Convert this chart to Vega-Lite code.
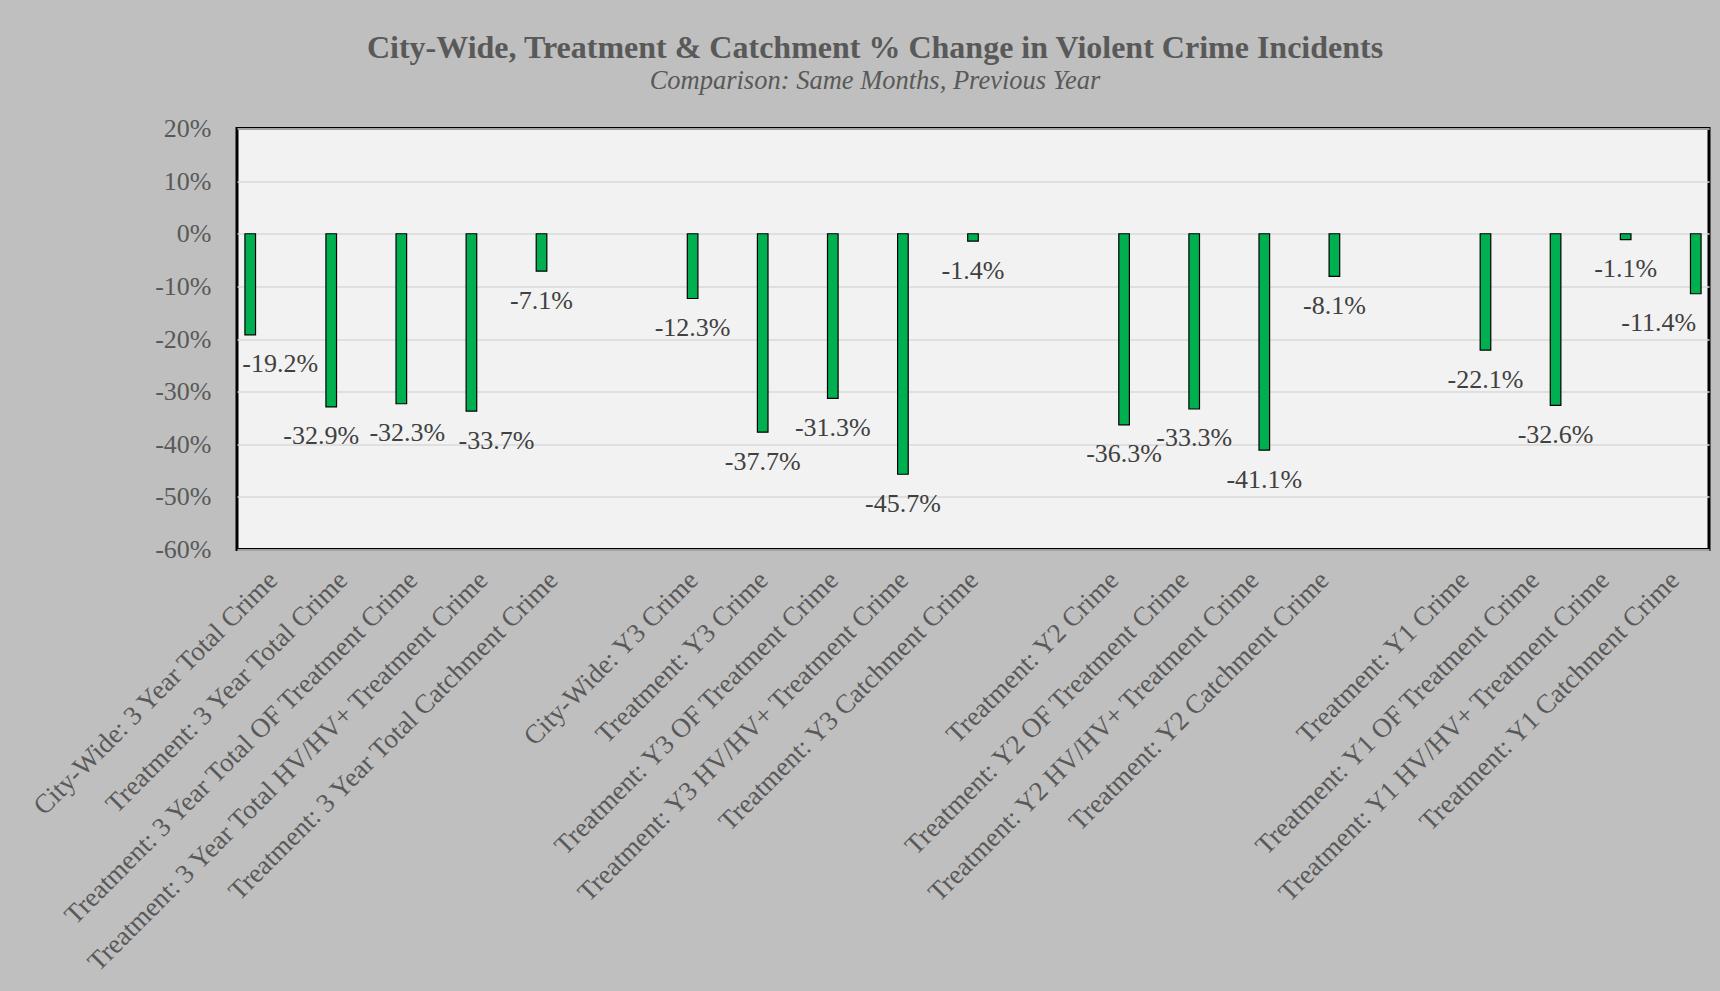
{
  "$schema": "https://vega.github.io/schema/vega-lite/v6.json",
  "autosize": "none",
  "width": 1472,
  "height": 421,
  "padding": {"left": 237, "top": 128.5, "right": 11, "bottom": 441.5},
  "background": "#BFBFBF",
  "title": {
    "text": "City-Wide, Treatment & Catchment % Change in Violent Crime Incidents",
    "subtitle": "Comparison: Same Months, Previous Year",
    "anchor": "middle",
    "frame": "group",
    "dx": -98,
    "offset": 20,
    "font": "Liberation Serif",
    "fontSize": 32,
    "fontWeight": "bold",
    "color": "#595959",
    "subtitleFont": "Liberation Serif",
    "subtitleFontSize": 26.5,
    "subtitleFontStyle": "italic",
    "subtitleColor": "#595959",
    "subtitlePadding": 3
  },
  "config": {
    "locale": {"number": {"decimal": ".", "thousands": ",", "grouping": [3], "currency": ["$", ""], "minus": "-"}},
    "view": {"fill": "#F2F2F2", "stroke": "#000000", "strokeWidth": 3}
  },
  "data": {
    "values": [
      {"cat": "City-Wide: 3 Year Total Crime", "series": "S0", "pct": -0.192},
      {"cat": "Treatment: 3 Year Total Crime", "series": "S1", "pct": -0.329},
      {"cat": "Treatment: 3 Year Total OF Treatment Crime", "series": "S1", "pct": -0.323},
      {"cat": "Treatment: 3 Year Total HV/HV+ Treatment Crime", "series": "S1", "pct": -0.337},
      {"cat": "Treatment: 3 Year Total Catchment Crime", "series": "S1", "pct": -0.071},
      {"cat": "City-Wide: Y3 Crime", "series": "S2", "pct": -0.123},
      {"cat": "Treatment: Y3 Crime", "series": "S2", "pct": -0.377},
      {"cat": "Treatment: Y3 OF Treatment Crime", "series": "S2", "pct": -0.313},
      {"cat": "Treatment: Y3 HV/HV+ Treatment Crime", "series": "S2", "pct": -0.457},
      {"cat": "Treatment: Y3 Catchment Crime", "series": "S2", "pct": -0.014},
      {"cat": "Treatment: Y2 Crime", "series": "S3", "pct": -0.363},
      {"cat": "Treatment: Y2 OF Treatment Crime", "series": "S3", "pct": -0.333},
      {"cat": "Treatment: Y2 HV/HV+ Treatment Crime", "series": "S3", "pct": -0.411},
      {"cat": "Treatment: Y2 Catchment Crime", "series": "S3", "pct": -0.081},
      {"cat": "Treatment: Y1 Crime", "series": "S4", "pct": -0.221},
      {"cat": "Treatment: Y1 OF Treatment Crime", "series": "S4", "pct": -0.326},
      {"cat": "Treatment: Y1 HV/HV+ Treatment Crime", "series": "S4", "pct": -0.011},
      {"cat": "Treatment: Y1 Catchment Crime", "series": "S4", "pct": -0.114}
    ]
  },
  "encoding": {
    "x": {
      "field": "cat",
      "type": "nominal",
      "sort": null,
      "scale": {
        "domain": [
          "City-Wide: 3 Year Total Crime",
          "Treatment: 3 Year Total Crime",
          "Treatment: 3 Year Total OF Treatment Crime",
          "Treatment: 3 Year Total HV/HV+ Treatment Crime",
          "Treatment: 3 Year Total Catchment Crime",
          " ",
          "City-Wide: Y3 Crime",
          "Treatment: Y3 Crime",
          "Treatment: Y3 OF Treatment Crime",
          "Treatment: Y3 HV/HV+ Treatment Crime",
          "Treatment: Y3 Catchment Crime",
          "  ",
          "Treatment: Y2 Crime",
          "Treatment: Y2 OF Treatment Crime",
          "Treatment: Y2 HV/HV+ Treatment Crime",
          "Treatment: Y2 Catchment Crime",
          "   ",
          "Treatment: Y1 Crime",
          "Treatment: Y1 OF Treatment Crime",
          "Treatment: Y1 HV/HV+ Treatment Crime",
          "Treatment: Y1 Catchment Crime"
        ],
        "paddingInner": 0.2225,
        "paddingOuter": 0.111
      },
      "axis": {
        "title": null,
        "labelAngle": -45,
        "labelFont": "Liberation Serif",
        "labelFontSize": 27,
        "labelColor": "#595959",
        "labelLimit": 0,
        "labelOverlap": false,
        "labelPadding": 17,
        "labelOffset": -8,
        "ticks": false,
        "domain": false,
        "grid": false
      }
    },
    "xOffset": {
      "field": "series",
      "type": "nominal",
      "scale": {"domain": ["S0", "S1", "S2", "S3", "S4"], "paddingInner": 0, "paddingOuter": 0}
    },
    "y": {
      "field": "pct",
      "type": "quantitative",
      "scale": {"domain": [-0.6, 0.2], "nice": false},
      "axis": {
        "title": null,
        "values": [-0.6, -0.5, -0.4, -0.3, -0.2, -0.1, 0, 0.1, 0.2],
        "format": ".0%",
        "labelFont": "Liberation Serif",
        "labelFontSize": 26,
        "labelColor": "#595959",
        "labelPadding": 26,
        "ticks": false,
        "domain": false,
        "grid": true,
        "gridColor": "#D9D9D9",
        "gridWidth": 1.5
      }
    }
  },
  "layer": [
    {
      "mark": {"type": "bar", "fill": "#00B050", "stroke": "#000000", "strokeWidth": 1.2, "width": 10.6}
    },
    {
      "transform": [{"filter": "indexof(['City-Wide: 3 Year Total Crime','Treatment: 3 Year Total Crime','Treatment: 3 Year Total HV/HV+ Treatment Crime','Treatment: Y1 Catchment Crime','Treatment: 3 Year Total OF Treatment Crime'], datum.cat) < 0"}],
      "mark": {"type": "text", "font": "Liberation Serif", "fontSize": 26, "color": "#404040", "baseline": "middle", "align": "center", "dy": 29.5},
      "encoding": {"text": {"field": "pct", "type": "quantitative", "format": ".1%"}}
    },
    {
      "transform": [{"filter": "datum.cat == 'City-Wide: 3 Year Total Crime'"}],
      "mark": {"type": "text", "font": "Liberation Serif", "fontSize": 26, "color": "#404040", "baseline": "middle", "align": "center", "dy": 29.5, "dx": 30},
      "encoding": {"text": {"field": "pct", "type": "quantitative", "format": ".1%"}}
    },
    {
      "transform": [{"filter": "datum.cat == 'Treatment: 3 Year Total Crime'"}],
      "mark": {"type": "text", "font": "Liberation Serif", "fontSize": 26, "color": "#404040", "baseline": "middle", "align": "center", "dy": 29, "dx": -10},
      "encoding": {"text": {"field": "pct", "type": "quantitative", "format": ".1%"}}
    },
    {
      "transform": [{"filter": "datum.cat == 'Treatment: 3 Year Total OF Treatment Crime'"}],
      "mark": {"type": "text", "font": "Liberation Serif", "fontSize": 26, "color": "#404040", "baseline": "middle", "align": "center", "dy": 29.5, "dx": 6},
      "encoding": {"text": {"field": "pct", "type": "quantitative", "format": ".1%"}}
    },
    {
      "transform": [{"filter": "datum.cat == 'Treatment: 3 Year Total HV/HV+ Treatment Crime'"}],
      "mark": {"type": "text", "font": "Liberation Serif", "fontSize": 26, "color": "#404040", "baseline": "middle", "align": "center", "dy": 29.5, "dx": 25},
      "encoding": {"text": {"field": "pct", "type": "quantitative", "format": ".1%"}}
    },
    {
      "transform": [{"filter": "datum.cat == 'Treatment: Y1 Catchment Crime'"}],
      "mark": {"type": "text", "font": "Liberation Serif", "fontSize": 26, "color": "#404040", "baseline": "middle", "align": "center", "dy": 29.5, "dx": -37},
      "encoding": {"text": {"field": "pct", "type": "quantitative", "format": ".1%"}}
    }
  ]
}
